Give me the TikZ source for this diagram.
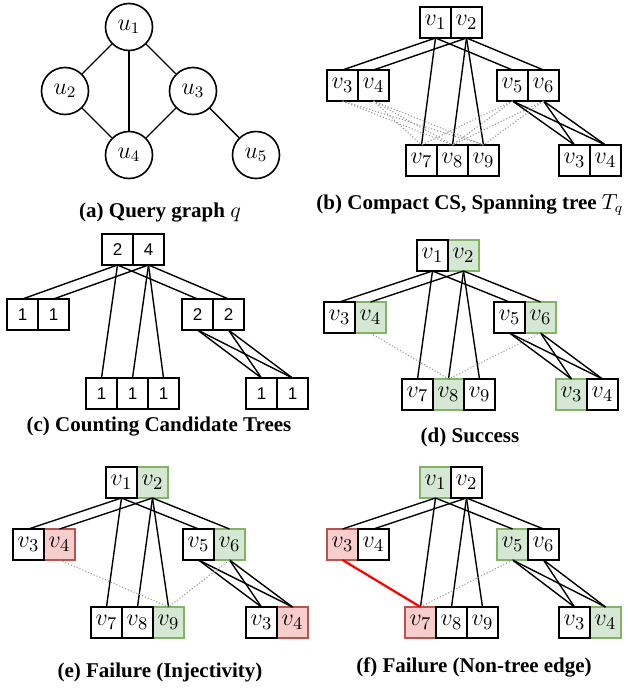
\documentclass[tikz,border=0pt]{standalone}
\usepackage[no-math]{fontspec}
\newfontfamily\capfont{Liberation Serif}
\newfontfamily\numfont{Liberation Sans}
\usepackage{tikz}
\usetikzlibrary{positioning}

\definecolor{okfill}{HTML}{D5E8D4}
\definecolor{okdraw}{HTML}{82B366}
\definecolor{badfill}{HTML}{F8CECC}
\definecolor{baddraw}{HTML}{B85450}

\tikzstyle{unode} = [circle, draw, line width=0.8pt, minimum size=23.5pt, inner sep=0pt, font=\fontsize{12}{14}\selectfont]
\tikzstyle{cell} = [draw, line width=0.7pt, minimum width=15.5pt, minimum height=15.5pt, inner sep=0pt, outer sep=0pt, font=\fontsize{13}{15}\selectfont]
\tikzstyle{okcell} = [cell, fill=okfill, draw=okdraw]
\tikzstyle{badcell} = [cell, fill=badfill, draw=baddraw]
\tikzstyle{numcell} = [cell, font=\numfont\fontsize{8.5}{10}\selectfont]
\tikzstyle{line} = [draw, line width=0.7pt]
\tikzstyle{ntline} = [draw=gray!80, densely dotted, line width=0.55pt]
\tikzstyle{cutline} = [draw=red, line width=1.1pt]
\tikzstyle{caption} = [font=\capfont\bfseries\fontsize{10.5}{12}\selectfont]

% tree edges of the compact CS, same in every panel
\newcommand{\treeedges}[1]{%
	\path [line] (#1-1.south) -- (#1-3.north);
	\path [line] (#1-1.south) -- (#1-5.north);
	\path [line] (#1-1.south) -- (#1-7.north);
	\path [line] (#1-2.south) -- (#1-4.north);
	\path [line] (#1-2.south) -- (#1-6.north);
	\path [line] (#1-2.south) -- (#1-8.north);
	\path [line] (#1-2.south) -- (#1-9.north);
	\path [line] (#1-5.south) -- (#1-3x.north);
	\path [line] (#1-5.south) -- (#1-4x.north);
	\path [line] (#1-6.south) -- (#1-3x.north);
	\path [line] (#1-6.south) -- (#1-4x.north);
}

\begin{document}
\begin{tikzpicture}[x=0.5pt, y=-0.5pt]
	\useasboundingbox (0,0) rectangle (627,690);

	% (a) query graph
	\node [unode] (u1) at (129,27) {$u_1$};
	\node [unode] (u2) at (65,91) {$u_2$};
	\node [unode] (u3) at (193,91) {$u_3$};
	\node [unode] (u4) at (129,155) {$u_4$};
	\node [unode] (u5) at (256,155) {$u_5$};

	\path [line] (u1) -- (u2);
	\path [line] (u1) -- (u3);
	\path [line] (u1) -- (u4);
	\path [line] (u2) -- (u4);
	\path [line] (u3) -- (u4);
	\path [line] (u3) -- (u5);
	\node [caption] (capa) at (160,213) {(a) Query graph $q$};

	% (b) compact CS
	\node [cell, anchor=north west] (b-1) at (420,7) {$v_1$};
	\node [cell, right=0pt of b-1] (b-2) {$v_2$};
	\node [cell, anchor=north west] (b-3) at (327,70) {$v_3$};
	\node [cell, right=0pt of b-3] (b-4) {$v_4$};
	\node [cell, anchor=north west] (b-5) at (497,70) {$v_5$};
	\node [cell, right=0pt of b-5] (b-6) {$v_6$};
	\node [cell, anchor=north west] (b-7) at (406,145) {$v_7$};
	\node [cell, right=0pt of b-7] (b-8) {$v_8$};
	\node [cell, right=0pt of b-8] (b-9) {$v_9$};
	\node [cell, anchor=north west] (b-3x) at (559,145) {$v_3$};
	\node [cell, right=0pt of b-3x] (b-4x) {$v_4$};

	\treeedges{b}
	\path [ntline] (b-3.south) -- (b-8.north);
	\path [ntline] (b-3.south) -- (b-9.north);
	\path [ntline] (b-4.south) -- (b-7.north);
	\path [ntline] (b-4.south) -- (b-8.north);
	\path [ntline] (b-4.south) -- (b-9.north);
	\path [ntline] (b-5.south) -- (b-7.north);
	\path [ntline] (b-5.south) -- (b-8.north);
	\path [ntline] (b-6.south) -- (b-8.north);
	\path [ntline] (b-6.south) -- (b-9.north);
	\node [caption] (capb) at (470,205) {(b) Compact CS, Spanning tree $T_q$};

	% (c) counting
	\node [numcell, anchor=north west] (c-1) at (102,234) {2};
	\node [numcell, right=0pt of c-1] (c-2) {4};
	\node [numcell, anchor=north west] (c-3) at (7,299) {1};
	\node [numcell, right=0pt of c-3] (c-4) {1};
	\node [numcell, anchor=north west] (c-5) at (182,299) {2};
	\node [numcell, right=0pt of c-5] (c-6) {2};
	\node [numcell, anchor=north west] (c-7) at (86,378) {1};
	\node [numcell, right=0pt of c-7] (c-8) {1};
	\node [numcell, right=0pt of c-8] (c-9) {1};
	\node [numcell, anchor=north west] (c-3x) at (246,378) {1};
	\node [numcell, right=0pt of c-3x] (c-4x) {1};

	\treeedges{c}
	\node [caption] (capc) at (159,427) {(c) Counting Candidate Trees};

	% (d) success
	\node [okcell, anchor=north west] (d-2) at (448,240) {$v_2$};
	\node [cell, left=0pt of d-2] (d-1) {$v_1$};
	\node [okcell, anchor=north west] (d-4) at (355,302) {$v_4$};
	\node [cell, left=0pt of d-4] (d-3) {$v_3$};
	\node [okcell, anchor=north west] (d-6) at (525,302) {$v_6$};
	\node [cell, left=0pt of d-6] (d-5) {$v_5$};
	\node [okcell, anchor=north west] (d-8) at (433,379) {$v_8$};
	\node [cell, left=0pt of d-8] (d-7) {$v_7$};
	\node [cell, right=0pt of d-8] (d-9) {$v_9$};
	\node [okcell, anchor=north west] (d-3x) at (556,379) {$v_3$};
	\node [cell, right=0pt of d-3x] (d-4x) {$v_4$};

	\treeedges{d}
	\path [ntline] (d-4.south) -- (d-8.north);
	\path [ntline] (d-6.south) -- (d-8.north);
	\node [caption] (capd) at (470,437) {(d) Success};

	% (e) failure, injectivity
	\node [okcell, anchor=north west] (e-2) at (137,467) {$v_2$};
	\node [cell, left=0pt of e-2] (e-1) {$v_1$};
	\node [badcell, anchor=north west] (e-4) at (44,529) {$v_4$};
	\node [cell, left=0pt of e-4] (e-3) {$v_3$};
	\node [okcell, anchor=north west] (e-6) at (214,529) {$v_6$};
	\node [cell, left=0pt of e-6] (e-5) {$v_5$};
	\node [okcell, anchor=north west] (e-9) at (153,607) {$v_9$};
	\node [cell, left=0pt of e-9] (e-8) {$v_8$};
	\node [cell, left=0pt of e-8] (e-7) {$v_7$};
	\node [badcell, anchor=north west] (e-4x) at (277,607) {$v_4$};
	\node [cell, left=0pt of e-4x] (e-3x) {$v_3$};

	\treeedges{e}
	\path [ntline] (e-4.south) -- (e-9.north);
	\path [ntline] (e-6.south) -- (e-9.north);
	\node [caption] (cape) at (160,672) {(e) Failure (Injectivity)};

	% (f) failure, non-tree edge
	\node [okcell, anchor=north west] (f-1) at (420,467) {$v_1$};
	\node [cell, right=0pt of f-1] (f-2) {$v_2$};
	\node [badcell, anchor=north west] (f-3) at (327,529) {$v_3$};
	\node [cell, right=0pt of f-3] (f-4) {$v_4$};
	\node [okcell, anchor=north west] (f-5) at (497,529) {$v_5$};
	\node [cell, right=0pt of f-5] (f-6) {$v_6$};
	\node [badcell, anchor=north west] (f-7) at (405,607) {$v_7$};
	\node [cell, right=0pt of f-7] (f-8) {$v_8$};
	\node [cell, right=0pt of f-8] (f-9) {$v_9$};
	\node [okcell, anchor=north west] (f-4x) at (590,607) {$v_4$};
	\node [cell, left=0pt of f-4x] (f-3x) {$v_3$};

	\treeedges{f}
	\path [ntline] (f-5.south) -- (f-7.north);
	\path [cutline] (f-3.south) -- (f-7.north);
	\node [caption] (capf) at (474,667) {(f) Failure (Non-tree edge)};
\end{tikzpicture}
\end{document}
